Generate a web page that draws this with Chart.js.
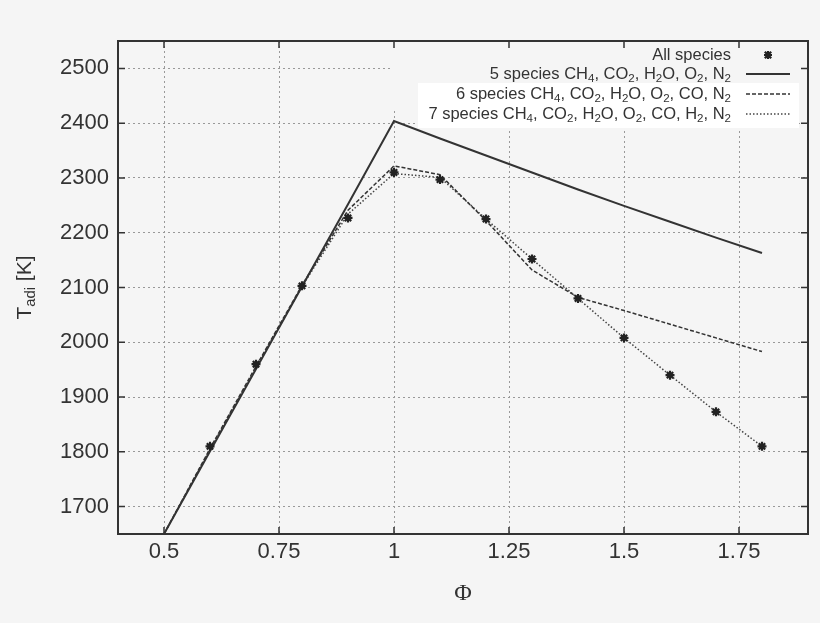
<!DOCTYPE html>
<html>
<head>
<meta charset="utf-8">
<script src="https://cdn.jsdelivr.net/npm/chart.js@4.4.1/dist/chart.umd.min.js"></script>
<style>
  html, body { margin: 0; padding: 0; background: #f5f5f5; }
  #wrap { width: 820px; height: 623px; }
</style>
</head>
<body>
<div id="wrap"><canvas id="chart" width="820" height="623"></canvas></div>
<script>
// equivalence ratio
const phi = [0.5, 0.6, 0.7, 0.8, 0.9, 1.0, 1.1, 1.2, 1.3, 1.4, 1.5, 1.6, 1.7, 1.8];

// adiabatic flame temperature [K]
const allSpecies   = [null, 1810, 1960, 2103, 2227, 2310, 2297, 2225, 2152, 2080, 2008, 1940, 1873, 1810];
const fiveSpecies  = [1650, 1801, 1951, 2102, 2252, 2404, 2372, 2341, 2310, 2279, 2249, 2220, 2191, 2163];
const sixSpecies   = [1650, 1806, 1956, 2104, 2241, 2322, 2306, 2222, 2132, 2082, 2058, 2033, 2008, 1983];
const sevenSpecies = [1650, 1804, 1954, 2102, 2234, 2308, 2301, 2225, 2152, 2080, 2008, 1940, 1873, 1810];

const xTicks = [0.5, 0.75, 1, 1.25, 1.5, 1.75];
const yTicks = [1700, 1800, 1900, 2000, 2100, 2200, 2300, 2400, 2500];

const legendLabels = [
  'All species',
  '5 species CH_4, CO_2, H_2O, O_2, N_2',
  '6 species CH_4, CO_2, H_2O, O_2, CO, N_2',
  '7 species CH_4, CO_2, H_2O, O_2, CO, H_2, N_2'
];
const xTitle = 'Φ';
const yTitle = 'T_{adi} [K]';

const FONT = '"Liberation Sans", Arial, sans-serif';
const INK = '#333';

const toPoints = arr => phi.map((x, i) => ({ x, y: arr[i] })).filter(p => p.y !== null);

// split "CH_4" / "T_{adi}" into normal and subscript pieces
function parseRich(text) {
  const parts = [];
  const re = /_\{([^}]*)\}|_(.)/g;
  let last = 0, m;
  while ((m = re.exec(text)) !== null) {
    if (m.index > last) parts.push({ t: text.slice(last, m.index), sub: false });
    parts.push({ t: m[1] !== undefined ? m[1] : m[2], sub: true });
    last = re.lastIndex;
  }
  if (last < text.length) parts.push({ t: text.slice(last), sub: false });
  return parts;
}

function drawRich(ctx, text, x, y, size, align, family) {
  const parts = parseRich(text);
  const fam = family || FONT;
  let total = 0;
  parts.forEach(p => {
    ctx.font = (p.sub ? size * 0.7 : size) + 'px ' + fam;
    p.w = ctx.measureText(p.t).width;
    total += p.w;
  });
  let cx = align === 'right' ? x - total : align === 'center' ? x - total / 2 : x;
  ctx.textAlign = 'left';
  ctx.textBaseline = 'middle';
  parts.forEach(p => {
    ctx.font = (p.sub ? size * 0.7 : size) + 'px ' + fam;
    ctx.fillText(p.t, cx, p.sub ? y + size * 0.3 : y);
    cx += p.w;
  });
}

function drawStar(ctx, x, y, r) {
  ctx.save();
  ctx.strokeStyle = '#222';
  ctx.lineWidth = 2.2;
  ctx.beginPath();
  ctx.moveTo(x - r, y); ctx.lineTo(x + r, y);
  ctx.moveTo(x, y - r); ctx.lineTo(x, y + r);
  ctx.moveTo(x - r * 0.8, y - r * 0.8); ctx.lineTo(x + r * 0.8, y + r * 0.8);
  ctx.moveTo(x - r * 0.8, y + r * 0.8); ctx.lineTo(x + r * 0.8, y - r * 0.8);
  ctx.stroke();
  ctx.restore();
}

const framePlugin = {
  id: 'gnuplotFrame',
  beforeDatasetsDraw(chart) {
    const ctx = chart.ctx;
    // legend boxes hide the grid under them
    ctx.save();
    ctx.fillStyle = '#f5f5f5';
    ctx.fillRect(390, 42, 417, 66);
    ctx.fillStyle = '#ffffff';
    ctx.fillRect(418, 83, 381, 45);
    ctx.restore();
  },
  afterDraw(chart) {
    const ctx = chart.ctx;
    const a = chart.chartArea;
    const xs = chart.scales.x, ys = chart.scales.y;
    ctx.save();

    // frame
    ctx.strokeStyle = INK;
    ctx.lineWidth = 2;
    ctx.strokeRect(a.left, a.top, a.right - a.left, a.bottom - a.top);

    // inward tick marks on all four sides
    ctx.lineWidth = 1.5;
    ctx.beginPath();
    xTicks.forEach(v => {
      const px = xs.getPixelForValue(v);
      ctx.moveTo(px, a.bottom); ctx.lineTo(px, a.bottom - 7);
      ctx.moveTo(px, a.top); ctx.lineTo(px, a.top + 7);
    });
    yTicks.forEach(v => {
      const py = ys.getPixelForValue(v);
      ctx.moveTo(a.left, py); ctx.lineTo(a.left + 7, py);
      ctx.moveTo(a.right, py); ctx.lineTo(a.right - 7, py);
    });
    ctx.stroke();

    // legend
    ctx.fillStyle = INK;
    const rowsY = [55, 74, 94, 114];
    legendLabels.forEach((lab, i) => drawRich(ctx, lab, 731, rowsY[i], 16.5, 'right'));
    drawStar(ctx, 768, rowsY[0], 4);
    const ds = chart.data.datasets;
    [1, 2, 3].forEach(i => {
      ctx.beginPath();
      ctx.strokeStyle = ds[i].borderColor;
      ctx.lineWidth = ds[i].borderWidth;
      ctx.setLineDash(ds[i].borderDash || []);
      ctx.moveTo(746, rowsY[i]);
      ctx.lineTo(790, rowsY[i]);
      ctx.stroke();
    });
    ctx.setLineDash([]);

    // axis titles
    ctx.fillStyle = INK;
    drawRich(ctx, xTitle, (a.left + a.right) / 2, 594, 24, 'center', '"Liberation Serif", "DejaVu Serif", serif');
    ctx.translate(25, (a.top + a.bottom) / 2);
    ctx.rotate(-Math.PI / 2);
    drawRich(ctx, yTitle, 0, 0, 21, 'center');
    ctx.restore();
  }
};

new Chart(document.getElementById('chart'), {
  type: 'scatter',
  data: {
    datasets: [
      {
        label: legendLabels[0],
        data: toPoints(allSpecies),
        showLine: false,
        pointStyle: 'star',
        pointRadius: 4.5,
        pointBorderWidth: 2.2,
        borderColor: '#222',
        backgroundColor: '#222'
      },
      {
        label: legendLabels[1],
        data: toPoints(fiveSpecies),
        showLine: true,
        borderColor: '#333',
        borderWidth: 2,
        pointRadius: 0,
        tension: 0
      },
      {
        label: legendLabels[2],
        data: toPoints(sixSpecies),
        showLine: true,
        borderColor: '#333',
        borderWidth: 1.5,
        borderDash: [4, 2],
        pointRadius: 0,
        tension: 0
      },
      {
        label: legendLabels[3],
        data: toPoints(sevenSpecies),
        showLine: true,
        borderColor: '#444',
        borderWidth: 1.5,
        borderDash: [1.5, 2],
        pointRadius: 0,
        tension: 0
      }
    ]
  },
  options: {
    responsive: false,
    animation: false,
    devicePixelRatio: 1,
    layout: { padding: { top: 41, right: 12, left: 0, bottom: 0 } },
    plugins: {
      legend: { display: false },
      tooltip: { enabled: false }
    },
    scales: {
      x: {
        type: 'linear',
        min: 0.4,
        max: 1.9,
        afterBuildTicks: s => { s.ticks = xTicks.map(v => ({ value: v })); },
        afterFit: s => { s.height = 89; },
        ticks: {
          callback: v => String(v),
          font: { size: 22, family: FONT },
          color: INK,
          padding: 5,
          maxRotation: 0,
          autoSkip: false
        },
        grid: { color: '#999', lineWidth: 1, drawTicks: false },
        border: { display: false, dash: [2, 3] }
      },
      y: {
        type: 'linear',
        min: 1650,
        max: 2550,
        afterBuildTicks: s => { s.ticks = yTicks.map(v => ({ value: v })); },
        afterFit: s => { s.width = 118; },
        ticks: {
          callback: v => String(v),
          font: { size: 22, family: FONT },
          color: INK,
          padding: 9,
          autoSkip: false
        },
        grid: { color: '#999', lineWidth: 1, drawTicks: false },
        border: { display: false, dash: [2, 3] }
      }
    }
  },
  plugins: [framePlugin]
});
</script>
</body>
</html>
